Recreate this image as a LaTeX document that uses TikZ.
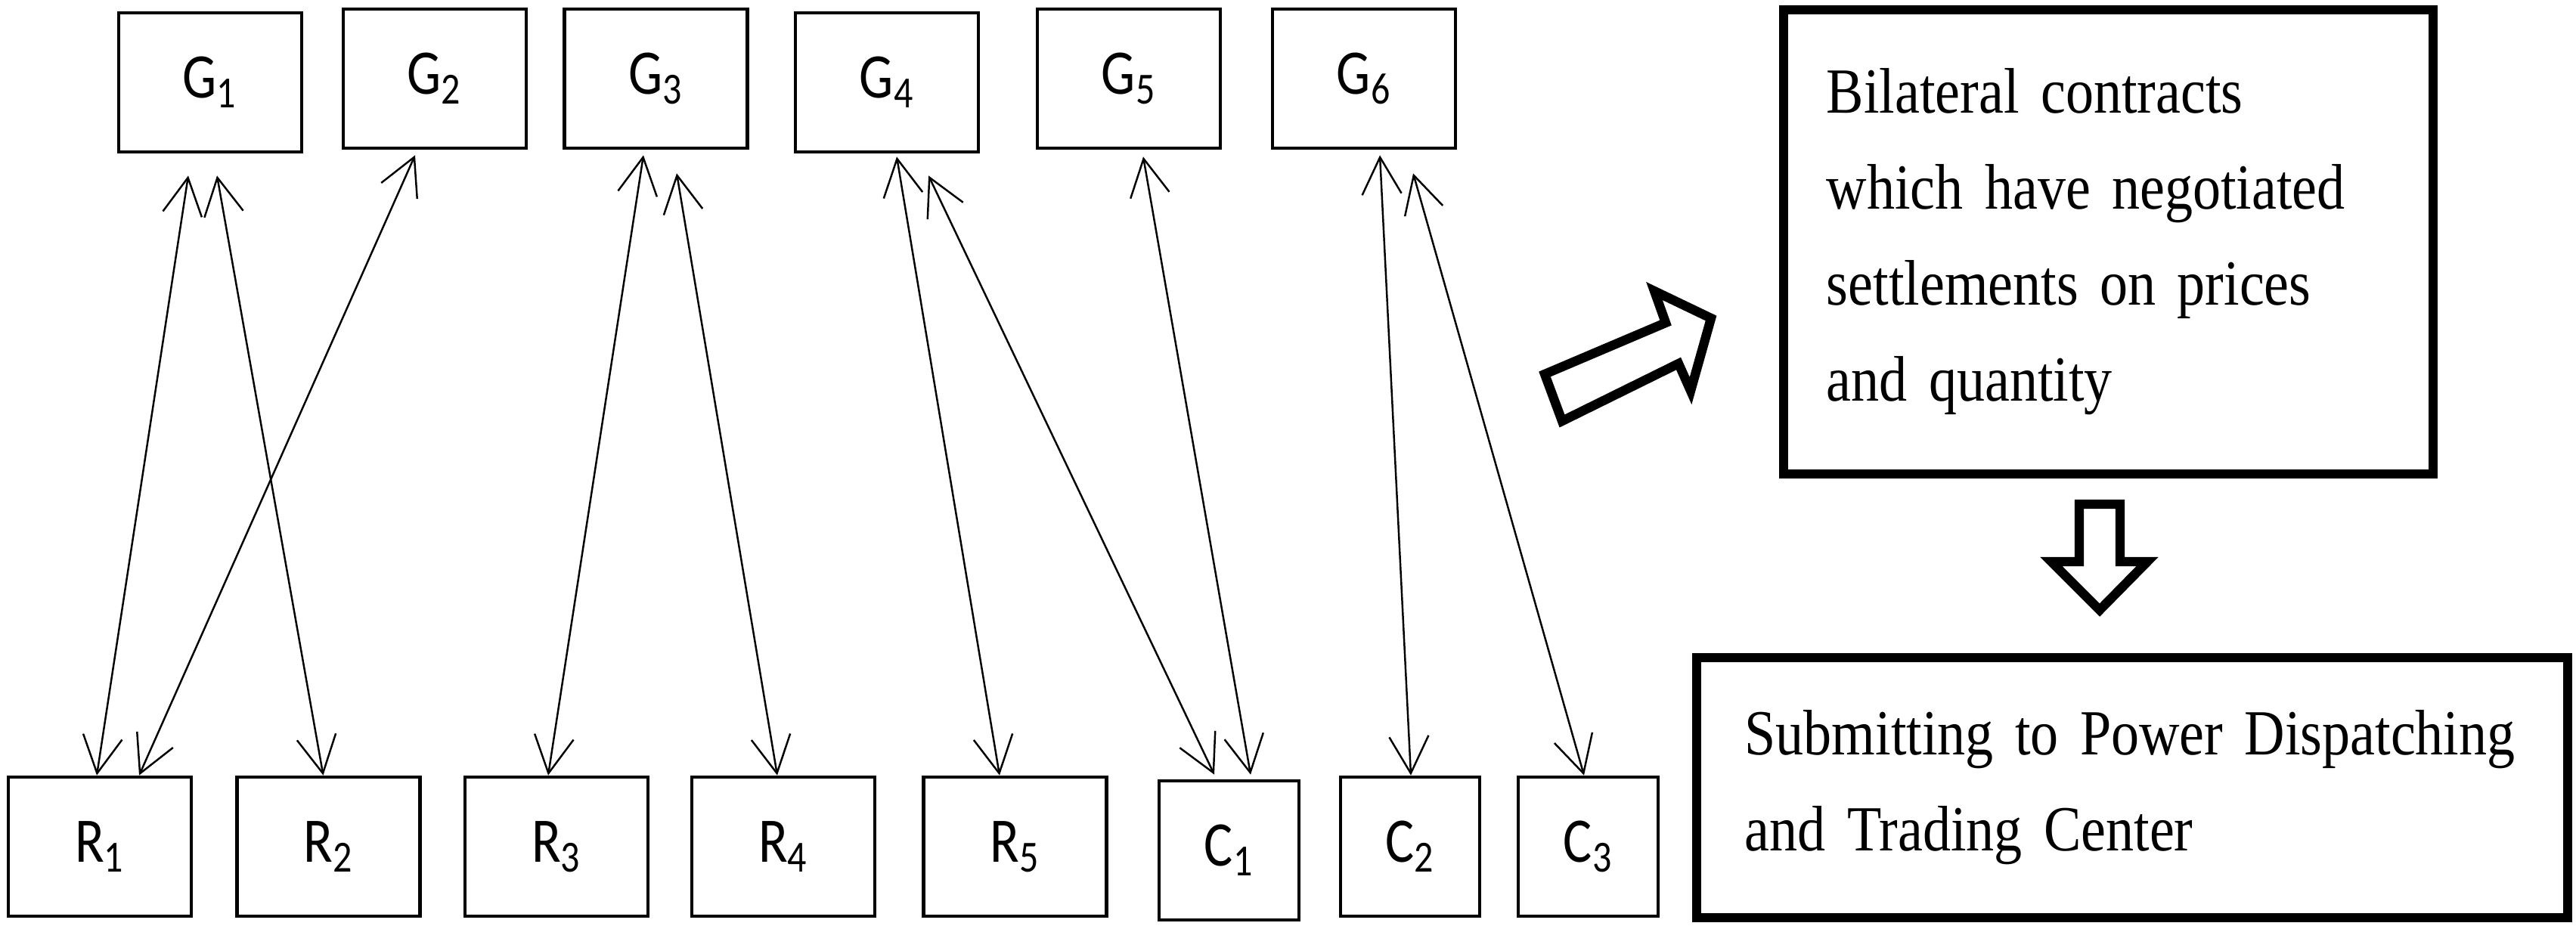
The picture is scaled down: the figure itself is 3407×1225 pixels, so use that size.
\documentclass[tikz,border=0pt]{standalone}
\usepackage{fontspec}
\usepackage{tikz}
\usetikzlibrary{arrows.meta}
\newfontfamily\labfont[FakeStretch=0.85]{Carlito}
\newfontfamily\notefont[FakeStretch=0.87]{Liberation Serif}
\tikzset{party/.style={draw,
    line width=1.3pt,
    minimum width=#1,
    minimum height=1.84cm,
    anchor=center,
    inner sep=0pt,
    font=\labfont\fontsize{23.9pt}{28pt}\selectfont
  },
  party/.default=2.42cm,
  stage box/.style={draw,
    line width=3.4pt,
    inner sep=0pt,
    align=left,
    font=\notefont\fontsize{24.2pt}{36.1pt}\selectfont
  },
  deal/.style={<->, line width=0.7pt, >={Straight Barb[length=0.49cm,width=0.52cm]}},
  block arrow/.style={line width=3.5pt, line join=miter}
}
\begin{document}
\begin{tikzpicture}[x=0.01cm,y=-0.01cm]
        \useasboundingbox (0,0) rectangle (3407,1225);
        % generators
        \node[party] (G1) at (278,109) {G\textsubscript{1}};
        \node[party] (G2) at (575,104) {G\textsubscript{2}};
        \node[party] (G3) at (867.5,104) {G\textsubscript{3}};
        \node[party] (G4) at (1173,109) {G\textsubscript{4}};
        \node[party] (G5) at (1493,104) {G\textsubscript{5}};
        \node[party] (G6) at (1804,104) {G\textsubscript{6}};
        % retailers and large consumers
        \node[party] (R1) at (132,1120) {R\textsubscript{1}};
        \node[party] (R2) at (434.5,1120) {R\textsubscript{2}};
        \node[party] (R3) at (736,1120) {R\textsubscript{3}};
        \node[party] (R4) at (1036,1120) {R\textsubscript{4}};
        \node[party] (R5) at (1342.5,1120) {R\textsubscript{5}};
        \node[party=1.85cm] (C1) at (1625.5,1125) {C\textsubscript{1}};
        \node[party=1.84cm] (C2) at (1865,1120) {C\textsubscript{2}};
        \node[party=1.85cm] (C3) at (2100.5,1120) {C\textsubscript{3}};
        % contracts
        \draw[deal] ([xshift=-0.29cm,yshift=-0.29cm]G1.south) -- ([xshift=-0.04cm]R1.north);
        \draw[deal] ([xshift=0.09cm,yshift=-0.29cm]G1.south) -- ([xshift=-0.07cm]R2.north);
        \draw[deal] ([xshift=-0.26cm,yshift=-0.07cm]G2.south) -- ([xshift=0.52cm]R1.north);
        \draw[deal] ([xshift=-0.165cm,yshift=-0.07cm]G3.south) -- ([xshift=-0.11cm]R3.north);
        \draw[deal] ([xshift=0.275cm,yshift=-0.31cm]G3.south) -- ([xshift=-0.08cm]R4.north);
        \draw[deal] ([xshift=0.13cm,yshift=-0.04cm]G4.south) -- ([xshift=-0.205cm]R5.north);
        \draw[deal] ([xshift=0.55cm,yshift=-0.29cm]G4.south) -- ([xshift=-0.195cm,yshift=0.06cm]C1.north);
        \draw[deal] ([xshift=0.19cm,yshift=-0.09cm]G5.south) -- ([xshift=0.285cm,yshift=0.06cm]C1.north);
        \draw[deal] ([xshift=0.21cm,yshift=-0.07cm]G6.south) -- ([xshift=0.01cm]C2.north);
        \draw[deal] ([xshift=0.65cm,yshift=-0.31cm]G6.south) -- ([xshift=-0.055cm]C3.north);
        % right hand side
        \node[stage box, text width=7.45cm, inner xsep=0.57cm, minimum height=6.14cm] (bilateral) at (2788.5,320)
          {Bilateral contracts\\\mbox{which have negotiated}\\settlements on prices\\and quantity};
        \node[stage box, text width=10.24cm, inner xsep=0.64cm, minimum height=3.44cm] (pdtc) at (2820,1042)
          {\mbox{Submitting to Power Dispatching}\\and Trading Center};
        \draw[block arrow] (2066,557) -- (2043,495) -- (2203,427) -- (2188,385) -- (2263,421) -- (2236,517) -- (2220,481) -- cycle;
        \draw[block arrow] (2750,667) -- (2804,667) -- (2804,743) -- (2840,743) -- (2777,807) -- (2713,743) -- (2750,743) -- cycle;
    \end{tikzpicture}
\end{document}
